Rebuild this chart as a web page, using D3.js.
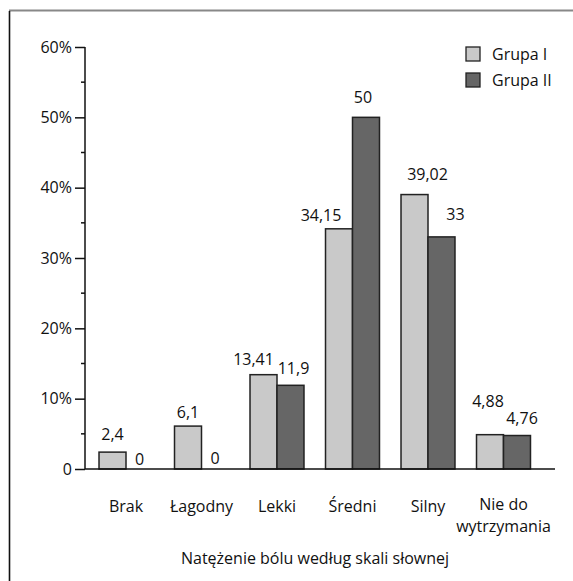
<!DOCTYPE html>
<html>
<head>
<meta charset="utf-8">
<script src="https://cdn.jsdelivr.net/npm/d3@7"></script>
<style>
  html, body { margin: 0; padding: 0; background: #fff; }
  svg { display: block; }
  text { font-family: "Open Sans", "Noto Sans", sans-serif; fill: #111; }
</style>
</head>
<body>
<svg id="chart" width="573" height="581"></svg>
<script>
// Pain intensity on a verbal scale, percent of patients per group
const categories = ["Brak", "Łagodny", "Lekki", "Średni", "Silny", "Nie do wytrzymania"];
const seriesNames = ["Grupa I", "Grupa II"];
const grupaI  = [2.4, 6.1, 13.41, 34.15, 39.02, 4.88];
const grupaII = [0, 0, 11.9, 50, 33, 4.76];
const yTicks = [0, 10, 20, 30, 40, 50, 60];
const yTickLabels = ["0", "10%", "20%", "30%", "40%", "50%", "60%"];
const xTitle = "Natężenie bólu według skali słownej";

// Label nudges (px) so value labels clear each other: [dx, dy] per series per category
const labelNudgeI  = [[0, -12], [0, -8], [-10, -10], [-18, -8], [13, -15], [-2, -28]];
const labelNudgeII = [[0, -4], [0, -5], [3, -11], [-3, -14], [14, -17], [5, -12]];

const colors = ["#c9c9c9", "#666666"];
const fontSize = 16;

const svg = d3.select("#chart");

// Frame: grey top rule, dark left rule
svg.append("line").attr("x1", 9).attr("x2", 573).attr("y1", 10.5).attr("y2", 10.5)
  .attr("stroke", "#888").attr("stroke-width", 2);
svg.append("line").attr("x1", 9.5).attr("x2", 9.5).attr("y1", 11).attr("y2", 581)
  .attr("stroke", "#111").attr("stroke-width", 1.6);

const y = d3.scaleLinear().domain([0, 60]).range([469, 47]);
const x0 = d3.scaleBand().domain(categories).range([88.25, 541.25]).paddingInner(0.285).paddingOuter(0.1425);
const x1 = d3.scaleBand().domain(seriesNames).range([0, x0.bandwidth()]);

// Y axis
const yAxis = d3.axisLeft(y).tickValues(yTicks).tickSize(10).tickFormat((d, i) => yTickLabels[i]);
const gy = svg.append("g").attr("transform", "translate(85,0)").call(yAxis);
gy.select(".domain").attr("stroke", "#111").attr("stroke-width", 1.5).attr("d", `M0,${y(60)}V${y(0)}`);
gy.selectAll(".tick line").attr("stroke", "#111").attr("stroke-width", 1.5);
gy.selectAll(".tick text").attr("x", -13).attr("font-size", fontSize)
  .style("font-family", '"Open Sans", sans-serif').attr("fill", "#111");
// minor ticks halfway between labelled ones
svg.append("g").selectAll("line").data(yTicks.slice(0, -1).map(d => d + 5)).join("line")
  .attr("x1", 81).attr("x2", 85).attr("y1", d => y(d)).attr("y2", d => y(d))
  .attr("stroke", "#111").attr("stroke-width", 1.5);

// Bars
const groups = svg.append("g").selectAll("g").data(categories).join("g")
  .attr("transform", d => `translate(${x0(d)},0)`);

const series = [grupaI, grupaII];
const nudges = [labelNudgeI, labelNudgeII];

groups.each(function(cat, ci) {
  const g = d3.select(this);
  seriesNames.forEach((s, si) => {
    const v = series[si][ci];
    g.append("rect")
      .attr("x", x1(s)).attr("width", x1.bandwidth())
      .attr("y", y(v)).attr("height", y(0) - y(v))
      .attr("fill", colors[si]).attr("stroke", "#222").attr("stroke-width", 1.5);
    const [dx, dy] = nudges[si][ci];
    g.append("text")
      .attr("x", x1(s) + x1.bandwidth() / 2 + dx)
      .attr("y", y(v) + dy)
      .attr("text-anchor", "middle").attr("font-size", fontSize)
      .text(String(v).replace(".", ","));
  });
});

// X baseline
svg.append("line").attr("x1", 85).attr("x2", 555).attr("y1", y(0)).attr("y2", y(0))
  .attr("stroke", "#111").attr("stroke-width", 1.5);

// Category labels (the last one wraps onto two lines)
const catLabels = svg.append("g");
categories.forEach(d => {
  const parts = d === "Nie do wytrzymania" ? ["Nie do", "wytrzymania"] : [d];
  parts.forEach((p, i) => {
    catLabels.append("text")
      .attr("x", x0(d) + x0.bandwidth() / 2)
      .attr("y", (parts.length > 1 ? 510 : 512) + i * 22)
      .attr("text-anchor", "middle").attr("font-size", fontSize)
      .text(p);
  });
});

// Axis title
svg.append("text").attr("x", 315).attr("y", 564).attr("text-anchor", "middle")
  .attr("font-size", fontSize).text(xTitle);

// Legend
const legend = svg.append("g").selectAll("g").data(seriesNames).join("g")
  .attr("transform", (d, i) => `translate(466,${47 + i * 26})`);
legend.append("rect").attr("width", 14).attr("height", 14)
  .attr("fill", (d, i) => colors[i]).attr("stroke", "#222").attr("stroke-width", 1.3);
legend.append("text").attr("x", 26).attr("y", 13).attr("font-size", fontSize).text(d => d);
</script>
</body>
</html>
